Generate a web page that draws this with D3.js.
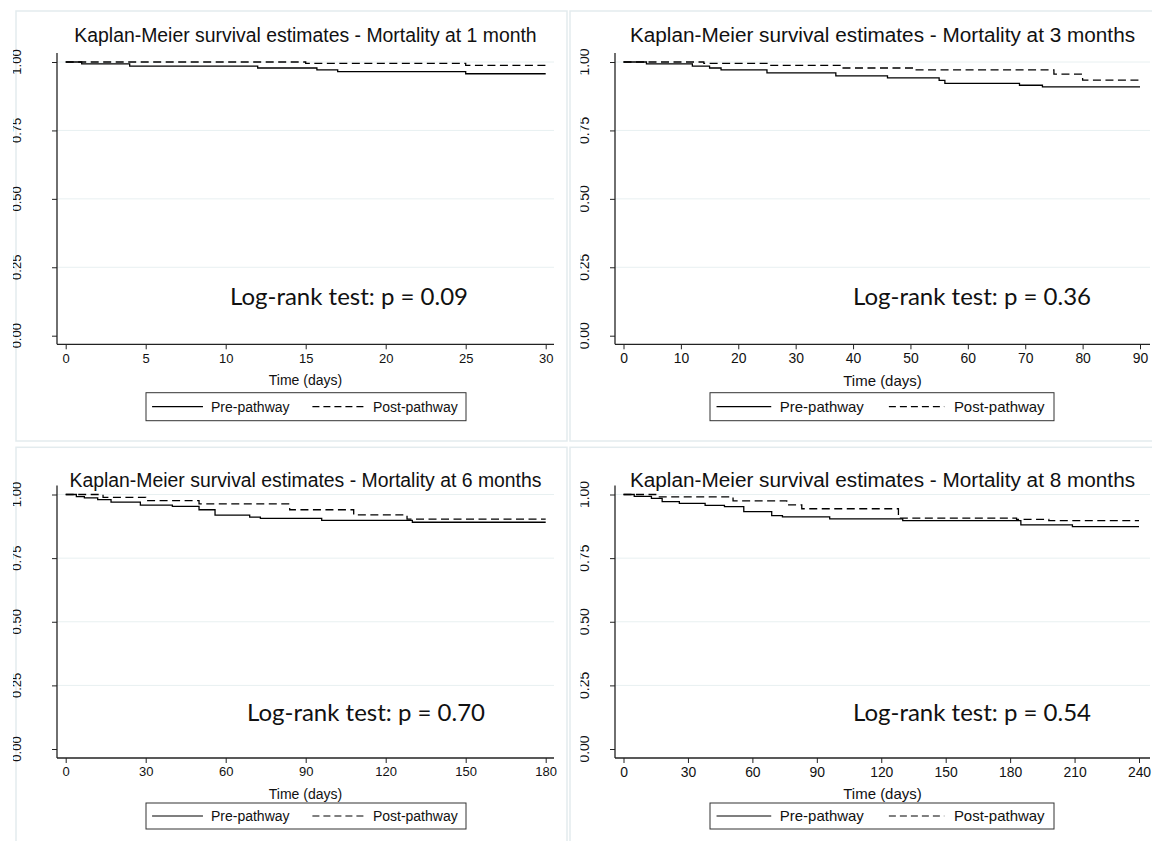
<!DOCTYPE html>
<html>
<head>
<meta charset="utf-8">
<script src="https://cdn.jsdelivr.net/npm/d3@7"></script>
<style>
  body { margin: 0; background: #fff; }
  svg { display: block; }
  text { font-family: "Liberation Sans", Arial, sans-serif; fill: #111; }
</style>
</head>
<body>
<div id="chart"></div>
<script>
// survival curves (days, survival)
var pre1T = [0, 1, 4, 12, 15.7, 17, 25, 30];
var pre1S = [1, 0.993, 0.985, 0.978, 0.971, 0.965, 0.957, 0.957];
var post1T = [0, 15, 25, 30];
var post1S = [1, 0.995, 0.988, 0.988];

var pre3T = [0, 4, 12, 15, 17, 25, 37, 46, 55, 56, 69, 73, 90];
var pre3S = [1, 0.993, 0.985, 0.978, 0.971, 0.960, 0.949, 0.942, 0.933, 0.922, 0.915, 0.909, 0.909];
var post3T = [0, 14, 25, 38, 51, 75, 80, 90];
var post3S = [1, 0.995, 0.988, 0.978, 0.971, 0.956, 0.934, 0.934];

var pre6T = [0, 4, 7, 12, 17, 28, 40, 50, 56, 69, 73, 96, 130, 180];
var pre6S = [1, 0.992, 0.987, 0.980, 0.970, 0.958, 0.953, 0.940, 0.919, 0.911, 0.906, 0.898, 0.891, 0.891];
var post6T = [0, 14, 30, 50, 84, 108, 128, 180];
var post6S = [1, 0.989, 0.976, 0.963, 0.940, 0.920, 0.903, 0.903];

var pre8T = [0, 5, 13, 18, 26, 38, 47, 56, 69, 74, 96, 130, 185, 209, 240];
var pre8S = [1, 0.993, 0.985, 0.972, 0.965, 0.957, 0.952, 0.933, 0.917, 0.912, 0.904, 0.897, 0.881, 0.874, 0.874];
var post8T = [0, 15, 51, 76, 83, 128, 183, 198, 240];
var post8S = [1, 0.991, 0.975, 0.959, 0.944, 0.907, 0.902, 0.897, 0.897];

var titles = ["Kaplan-Meier survival estimates - Mortality at 1 month",
              "Kaplan-Meier survival estimates - Mortality at 3 months",
              "Kaplan-Meier survival estimates - Mortality at 6 months",
              "Kaplan-Meier survival estimates - Mortality at 8 months"];
var maxDays = [30, 90, 180, 240];
var tickSteps = [5, 10, 30, 30];
var pValues = ["0.09", "0.36", "0.70", "0.54"];
var yTicks = [0, 0.25, 0.5, 0.75, 1];
var seriesNames = ["Pre-pathway", "Post-pathway"];
var xTitle = "Time (days)";

var curves = [
  [[pre1T, pre1S], [post1T, post1S]],
  [[pre3T, pre3S], [post3T, post3S]],
  [[pre6T, pre6S], [post6T, post6S]],
  [[pre8T, pre8S], [post8T, post8S]]
];

// layout of the four panels
var layout = [
  {box: [16, 11, 567, 441], axisX: 57, right: 554, x0: 65.7, x1: 545.7, yTop: 62, yBot: 335.7, axisY: 344.3,
   titleY: 35, k: 1, labelX: 20.5, clipX: 13, legend: [146, 392.7, 466, 420.7], logX: 230, logY: 305},
  {box: [570, 11, 1160, 441], axisX: 615, right: 1150, x0: 623.5, x1: 1140, yTop: 62, yBot: 335.7, axisY: 344.3,
   titleY: 35, k: 1.07, labelX: 589, clipX: 580.5, legend: [710, 392.7, 1054, 420.7], logX: 853, logY: 305},
  {box: [16, 447.3, 567, 870], axisX: 57, right: 554, x0: 65.7, x1: 545.7, yTop: 494.5, yBot: 749, axisY: 758,
   titleY: 480, k: 1, labelX: 20.5, clipX: 13, legend: [146, 803, 466, 829], logX: 247, logY: 721},
  {box: [570, 447.3, 1160, 870], axisX: 615, right: 1150, x0: 623.5, x1: 1139, yTop: 494.5, yBot: 749, axisY: 758,
   titleY: 480, k: 1.07, labelX: 589, clipX: 580.5, legend: [710, 803, 1054, 829], logX: 853, logY: 721}
];

var svg = d3.select("#chart").append("svg")
  .attr("width", 1152)
  .attr("height", 841);

var defs = svg.append("defs");

layout.forEach(function(L, i) {
  var k = L.k;
  var g = svg.append("g");

  // panel frame
  g.append("rect")
    .attr("x", L.box[0]).attr("y", L.box[1])
    .attr("width", L.box[2] - L.box[0]).attr("height", L.box[3] - L.box[1])
    .attr("fill", "none").attr("stroke", "#e3ebee").attr("stroke-width", 1.5);

  var x = d3.scaleLinear().domain([0, maxDays[i]]).range([L.x0, L.x1]);
  var y = d3.scaleLinear().domain([0, 1]).range([L.yBot, L.yTop]);

  // grid lines
  g.append("g").selectAll("line")
    .data(yTicks.filter(function(d) { return d > 0; }))
    .enter().append("line")
    .attr("x1", L.axisX).attr("x2", L.right)
    .attr("y1", function(d) { return y(d); }).attr("y2", function(d) { return y(d); })
    .attr("stroke", "#e8f0f1").attr("stroke-width", 1);

  // title
  g.append("text")
    .attr("x", (L.axisX + L.right) / 2).attr("y", L.titleY)
    .attr("dy", "0.36em")
    .attr("text-anchor", "middle")
    .style("font-size", (19.4 * k) + "px")
    .text(titles[i]);

  // x axis
  var xAxis = g.append("g")
    .attr("transform", "translate(0," + L.axisY + ")")
    .call(d3.axisBottom(x).tickValues(d3.range(0, maxDays[i] + 1, tickSteps[i])).tickSize(5).tickPadding(4).tickSizeOuter(0));
  xAxis.select(".domain").remove();
  xAxis.selectAll("line").attr("stroke", "#222");
  xAxis.selectAll("text").style("font-size", (13 * k) + "px").attr("fill", "#111");
  g.append("line")
    .attr("x1", L.axisX).attr("x2", L.right)
    .attr("y1", L.axisY).attr("y2", L.axisY)
    .attr("stroke", "#222").attr("stroke-width", 1.3);

  g.append("text")
    .attr("x", (L.axisX + L.right) / 2).attr("y", L.axisY + 36)
    .attr("dy", "0.36em")
    .attr("text-anchor", "middle")
    .style("font-size", (14 * k) + "px")
    .text(xTitle);

  // y axis
  var clipId = "clip" + i;
  defs.append("clipPath").attr("id", clipId)
    .append("rect").attr("x", L.clipX).attr("y", L.box[1]).attr("width", 200).attr("height", 500);

  var yAxis = g.append("g")
    .attr("transform", "translate(" + L.axisX + ",0)")
    .call(d3.axisLeft(y).tickValues(yTicks).tickFormat(d3.format(".2f")).tickSize(5).tickSizeOuter(0));
  yAxis.select(".domain").remove();
  yAxis.selectAll("line").attr("stroke", "#222");
  yAxis.selectAll("text").remove();
  g.append("line")
    .attr("x1", L.axisX).attr("x2", L.axisX)
    .attr("y1", L.yTop - 9).attr("y2", L.axisY)
    .attr("stroke", "#222").attr("stroke-width", 1.3);

  g.append("g").attr("clip-path", "url(#" + clipId + ")")
    .selectAll("text")
    .data(yTicks)
    .enter().append("text")
    .attr("transform", function(d) { return "translate(" + L.labelX + "," + y(d) + ") rotate(-90)"; })
    .attr("text-anchor", "middle")
    .style("font-size", (13 * k) + "px")
    .text(d3.format(".2f"));

  // survival curves
  var line = d3.line()
    .x(function(d) { return x(d[0]); })
    .y(function(d) { return y(d[1]); })
    .curve(d3.curveStepAfter);

  curves[i].forEach(function(c, j) {
    var pts = c[0].map(function(t, m) { return [t, c[1][m]]; });
    g.append("path")
      .datum(pts)
      .attr("fill", "none")
      .attr("stroke", "#000")
      .attr("stroke-width", 1.3)
      .attr("stroke-dasharray", j === 1 ? "8,4.5" : null)
      .attr("d", line);
  });

  // log-rank annotation
  g.append("text")
    .attr("x", L.logX).attr("y", L.logY)
    .style("font-family", "Lato, 'Open Sans', sans-serif")
    .style("font-size", "24px")
    .text("Log-rank test: p = " + pValues[i]);

  // legend
  var lg = L.legend;
  var lw = lg[2] - lg[0];
  var cy = (lg[1] + lg[3]) / 2;
  g.append("rect")
    .attr("x", lg[0]).attr("y", lg[1])
    .attr("width", lw).attr("height", lg[3] - lg[1])
    .attr("fill", "#fff").attr("stroke", "#333").attr("stroke-width", 1);
  var items = [
    {x1: lg[0] + lw * 0.019, x2: lg[0] + lw * 0.178, tx: lg[0] + lw * 0.203, dash: null},
    {x1: lg[0] + lw * 0.52, x2: lg[0] + lw * 0.681, tx: lg[0] + lw * 0.709, dash: "7,4"}
  ];
  items.forEach(function(it, j) {
    g.append("line")
      .attr("x1", it.x1).attr("x2", it.x2)
      .attr("y1", cy).attr("y2", cy)
      .attr("stroke", "#000").attr("stroke-width", 1.2)
      .attr("stroke-dasharray", it.dash);
    g.append("text")
      .attr("x", it.tx).attr("y", cy)
      .attr("dy", "0.36em")
      .style("font-size", (14 * k) + "px")
      .text(seriesNames[j]);
  });
});
</script>
</body>
</html>
